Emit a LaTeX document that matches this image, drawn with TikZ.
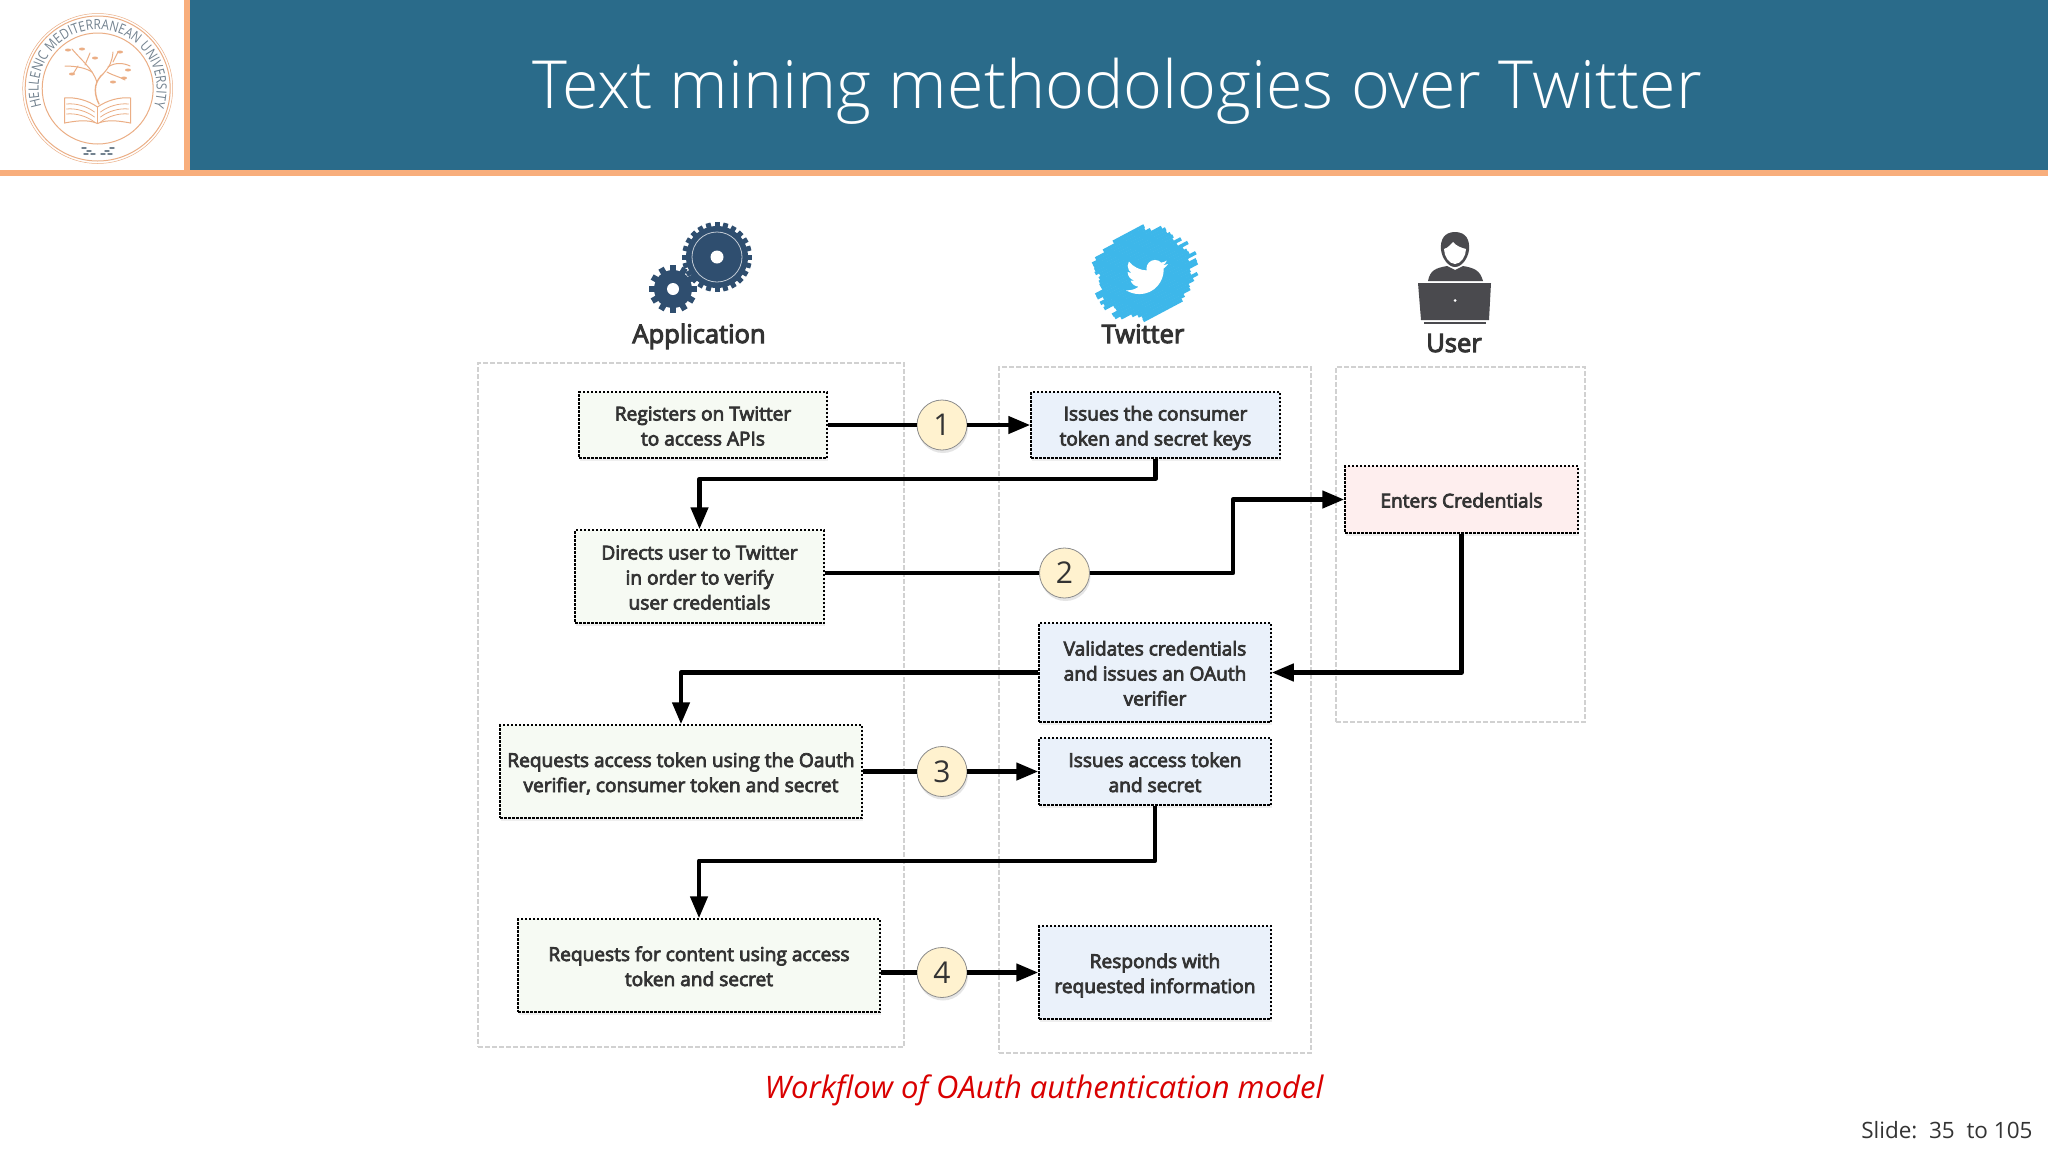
\documentclass[tikz,border=0pt]{standalone}
\usepackage{fontspec}
\setmainfont{Open Sans}
\newfontfamily\semifont[FakeBold=4]{Open Sans}
\newfontfamily\logofont[FakeStretch=.85]{Open Sans}
\newfontfamily\lightfont{Open Sans Light}
\usetikzlibrary{arrows.meta,shadows,decorations.text}
\definecolor{bandblue}{HTML}{2A6B8A}
\definecolor{bandorange}{HTML}{F8AE7C}
\definecolor{logoorange}{HTML}{EBAE85}
\definecolor{logogrey}{HTML}{73828F}
\definecolor{geardark}{HTML}{2F4E6F}
\definecolor{birdblue}{HTML}{3DB7EA}
\definecolor{userdark}{HTML}{4A4A4E}
\definecolor{inktext}{HTML}{333333}
\definecolor{appfill}{HTML}{F6FAF3}
\definecolor{twfill}{HTML}{EAF1FA}
\definecolor{userfill}{HTML}{FEEEEE}
\definecolor{numfill}{HTML}{FFF2CF}
\newcommand{\liftstrut}{\rule{0pt}{23.5pt}}
\newcommand{\dropstrut}{\rule[-7.5pt]{0pt}{7.5pt}}
\tikzset{
  panel/.style={draw=black!18, line width=1.8pt, dash pattern=on 5pt off 2pt, inner sep=0pt},
  stepbox/.style={draw=black, line width=1.5pt, dash pattern=on 2.5pt off 1.5pt, inner sep=0pt,
    align=center, text=inktext, font=\semifont\fontsize{19.1}{25}\selectfont,
    drop shadow={shadow xshift=1pt, shadow yshift=-3pt, opacity=.12}},
  appbox/.style={stepbox, fill=appfill},
  twbox/.style={stepbox, fill=twfill},
  userbox/.style={stepbox, fill=userfill},
  numdot/.style={circle, draw=black!45, line width=.8pt, fill=numfill, minimum size=50pt,
    inner sep=0pt, text=inktext, font=\fontsize{30}{30}\selectfont,
    drop shadow={shadow xshift=1pt, shadow yshift=-3pt, opacity=.2}},
  heading/.style={anchor=base, text=inktext, font=\semifont\fontsize{25.5}{25.5}\selectfont},
  flow/.style={line width=4.5pt, line join=round, draw=black},
  flowtip/.style={flow, -{Triangle[length=22pt,width=17pt]}},
  logoline/.style={draw=logoorange, line width=1pt, line cap=round}
}
\begin{document}
\begin{tikzpicture}[x=1pt,y=-1pt]
  \useasboundingbox (0,0) rectangle (2048,1152);
  \fill[white] (0,0) rectangle (2048,1152);
  \fill[bandblue] (187,0) rectangle (2048,172);
  \fill[bandorange] (184,0) rectangle (190,176);
  \fill[bandorange] (0,170) rectangle (2048,176);
  \node[text=white, font=\lightfont\fontsize{66.4}{66.4}\selectfont] (title) at (1117,91) {Text mining methodologies over Twitter};

  \draw[logoorange, line width=.5pt] (97.7,88.5) circle (75);
  \draw[logoorange, line width=1pt] (97.7,88.5) circle (72.5);
  \draw[logoorange, line width=1pt] (97.7,88.5) circle (55.5);
  \path[decorate, decoration={text along path, text align={center},
    text={|\logofont\fontsize{14}{14}\selectfont\color{logogrey}|HELLENIC MEDITERRANEAN UNIVERSITY}}]
    (97.7,88.5) ++(165:59) arc (165:375:59);
  \foreach \sgn in {-1,1} {
    \begin{scope}[shift={(97.5,0)}, x={(\sgn*1pt,0pt)}]
      \draw[logoline] (0,107) .. controls (-10,100) and (-22,97) .. (-33,98) -- (-33,123)
        .. controls (-22,121) and (-10,119) .. (0,123.5);
      \foreach \k in {5,10,15}
        \draw[logoline, line width=.8pt] (-3,107+\k) .. controls (-11,101+\k) and (-22,98+\k) .. (-31,99+\k);
    \end{scope}
  }
  \draw[logoline] (97.5,123.5) -- (97.5,107);
  \draw[logoline, line width=1.4pt] (99,104) .. controls (92,90) and (96,80) .. (103,74);
  \draw[logoline] (97,82) .. controls (92,68) and (83,62) .. (72,49);
  \draw[logoline] (85,65) -- (90,53);
  \draw[logoline] (92,72) .. controls (86,68) and (76,66) .. (65,66);
  \draw[logoline] (78,66) -- (73,74);
  \draw[logoline] (103,74) .. controls (110,66) and (112,62) .. (113,52);
  \draw[logoline] (108,67) .. controls (115,62) and (124,63) .. (130,66);
  \draw[logoline] (113,62) -- (118,52);
  \draw[logoline] (107,72) .. controls (114,76) and (118,76) .. (125,80);
  \foreach \lx/\ly in {82/49,95/58,72/74,120/52,128/70,124/78,113/82,68/50}
    \fill[logoorange] (\lx,\ly) ellipse (3 and 1.5);
  \foreach \lx/\ly in {84/148,89/151,93/154,103/154,107/151,112/148,86/154,110/154}
    \fill[logogrey] (\lx,\ly) ellipse (3 and 1);

  \foreach \ang in {0,15,...,345}
    \fill[geardark, rotate around={\ang:(717,257)}] (714.5,222) rectangle (719.5,240);
  \fill[geardark] (717,257) circle (31);
  \draw[white!70!geardark, line width=.8pt] (717,257) circle (25);
  \fill[white] (717,257) circle (6.5);
  \foreach \ang in {0,30,...,330}
    \fill[geardark, rotate around={\ang:(673,289)}] (670,265) rectangle (676,280);
  \fill[geardark] (673,289) circle (19);
  \fill[white] (673,289) circle (6);

  \pgfmathsetseed{7}
  \begin{scope}[shift={(1144,273)}, rotate=-62]
    \foreach \k in {-13,...,13} {
      \pgfmathsetmacro{\halflen}{sqrt(43*43-(3.2*\k)*(3.2*\k))+rnd*13}
      \pgfmathsetmacro{\otherlen}{sqrt(43*43-(3.2*\k)*(3.2*\k))+rnd*13}
      \draw[birdblue, line width=3.6pt] (3.2*\k,-\halflen) -- (3.2*\k,\otherlen);
    }
  \end{scope}
  \begin{scope}[shift={(1126,256)}, x=1.75pt, y=-1.75pt]
    \fill[white] (23.95,4.57) .. controls (23.1,4.95) and (22.1,5.2) .. (21.12,5.35)
      .. controls (22.1,4.75) and (22.9,3.8) .. (23.29,2.62)
      .. controls (22.34,3.18) and (21.28,3.58) .. (20.16,3.8)
      .. controls (19.25,2.85) and (18,2.25) .. (16.57,2.25)
      .. controls (13.9,2.25) and (11.7,4.45) .. (11.7,7.15)
      .. controls (11.7,7.55) and (11.75,7.9) .. (11.82,8.25)
      .. controls (7.7,8.1) and (4.07,6.13) .. (1.64,3.16)
      .. controls (1.22,3.88) and (.97,4.73) .. (.97,5.64)
      .. controls (.97,7.35) and (1.84,8.85) .. (3.16,9.73)
      .. controls (2.35,9.7) and (1.6,9.48) .. (.93,9.11)
      -- (.93,9.17)
      .. controls (.93,11.56) and (2.63,13.55) .. (4.88,14)
      .. controls (4.17,14.19) and (3.4,14.22) .. (2.67,14.08)
      .. controls (3.3,16.04) and (5.12,17.46) .. (7.27,17.5)
      .. controls (5.58,18.82) and (3.45,19.6) .. (1.17,19.6)
      .. controls (.78,19.6) and (.39,19.58) .. (0,19.54)
      .. controls (2.18,20.93) and (4.77,21.75) .. (7.56,21.75)
      .. controls (16.61,21.75) and (21.56,14.25) .. (21.56,7.76)
      .. controls (21.56,7.55) and (21.56,7.34) .. (21.54,7.13)
      .. controls (22.5,6.44) and (23.34,5.57) .. (24,4.59) -- cycle;
  \end{scope}

  \fill[userdark] (1455,232) .. controls (1466,232) and (1470,240) .. (1469,250)
    .. controls (1468,258) and (1462,267) .. (1455,267)
    .. controls (1448,267) and (1442,258) .. (1441,250)
    .. controls (1440,240) and (1444,232) .. (1455,232) -- cycle;
  \fill[white] (1455,264) .. controls (1449,264) and (1444,256) .. (1444,249)
    .. controls (1448,248) and (1451,244) .. (1453,242)
    .. controls (1456,246) and (1462,248) .. (1466,249)
    .. controls (1466,256) and (1461,264) .. (1455,264) -- cycle;
  \fill[userdark] (1428,281) .. controls (1430,270) and (1436,268) .. (1447,266)
    -- (1455,270) -- (1463,266) .. controls (1474,268) and (1480,270) .. (1483,281) -- cycle;
  \fill[userdark] (1418,283) -- (1491,283) -- (1489,320) -- (1421,320) -- cycle;
  \fill[userdark] (1424,322) rectangle (1486,324);
  \fill[white] (1455,300.5) circle (1.5);

  \node[panel, minimum width=426pt, minimum height=684pt] (apppanel) at (691,705) {};
  \node[panel, minimum width=312pt, minimum height=686pt] (twpanel) at (1155,710) {};
  \node[panel, minimum width=249pt, minimum height=355pt] (userpanel) at (1460.5,544.5) {};

  \node[heading] (apphead) at (699,343) {Application};
  \node[heading] (twhead) at (1143,343) {Twitter};
  \node[heading] (userhead) at (1454,352) {User};

  \draw
    (703,425) node[appbox, minimum width=248pt, minimum height=66pt] (app1) {\liftstrut Registers on Twitter\\to access APIs\dropstrut}
    (699.5,576.5) node[appbox, minimum width=249pt, minimum height=93pt] (app2) {\liftstrut Directs user to Twitter\\in order to verify\\user credentials\dropstrut}
    (681,771.5) node[appbox, minimum width=362pt, minimum height=93pt] (app3) {\liftstrut Requests access token using the Oauth\\verifier, consumer token and secret\dropstrut}
    (699,965.5) node[appbox, minimum width=362pt, minimum height=93pt] (app4) {\liftstrut Requests for content using access\\token and secret\dropstrut}
    (1155.5,425) node[twbox, minimum width=249pt, minimum height=66pt] (tw1) {\liftstrut Issues the consumer\\token and secret keys\dropstrut}
    (1155,672.5) node[twbox, minimum width=232pt, minimum height=99pt] (tw2) {\liftstrut Validates credentials\\and issues an OAuth\\verifier\dropstrut}
    (1155,771.5) node[twbox, minimum width=232pt, minimum height=67pt] (tw3) {\liftstrut Issues access token\\and secret\dropstrut}
    (1155,972.5) node[twbox, minimum width=232pt, minimum height=93pt] (tw4) {\liftstrut Responds with\\requested information\dropstrut}
    (1461.5,499.5) node[userbox, minimum width=233pt, minimum height=67pt] (user1) {\liftstrut Enters Credentials\dropstrut}
    (942,425) node[numdot] (num1) {1}
    (1064.5,573) node[numdot] (num2) {2}
    (942,771.5) node[numdot] (num3) {3}
    (942,972.5) node[numdot] (num4) {4};
  \coordinate (turn2) at (1233,573);
  \begin{scope}[flow]
    \draw (app1.east) to (num1);
    \draw[flowtip] (num1) to (tw1.west);
    \draw[flowtip] (tw1.south) -- ++(0,20) -| (app2.north);
    \draw (num2 -| app2.east) to (num2);
    \draw[flowtip] (num2) -- (turn2) |- (user1.west);
    \draw[flowtip] (user1.south) |- (tw2.east);
    \draw[flowtip] (tw2.west) -| (app3.north);
    \draw (app3.east) to (num3);
    \draw[flowtip] (num3) to (tw3.west);
    \draw[flowtip] (tw3.south) -- ++(0,55) -| (app4.north);
    \draw (num4 -| app4.east) to (num4);
    \draw[flowtip] (num4) to (tw4.west);
  \end{scope}

  \node[text=red!85!black, font=\itshape\fontsize{31}{31}\selectfont] (caption) at (1044,1090) {Workflow of OAuth authentication model};
  \node[anchor=east, text=inktext, font=\fontsize{22.5}{23}\selectfont] (slidenum) at (2036,1130) {Slide:\ \ 35\ \ to 105};
\end{tikzpicture}
\end{document}
